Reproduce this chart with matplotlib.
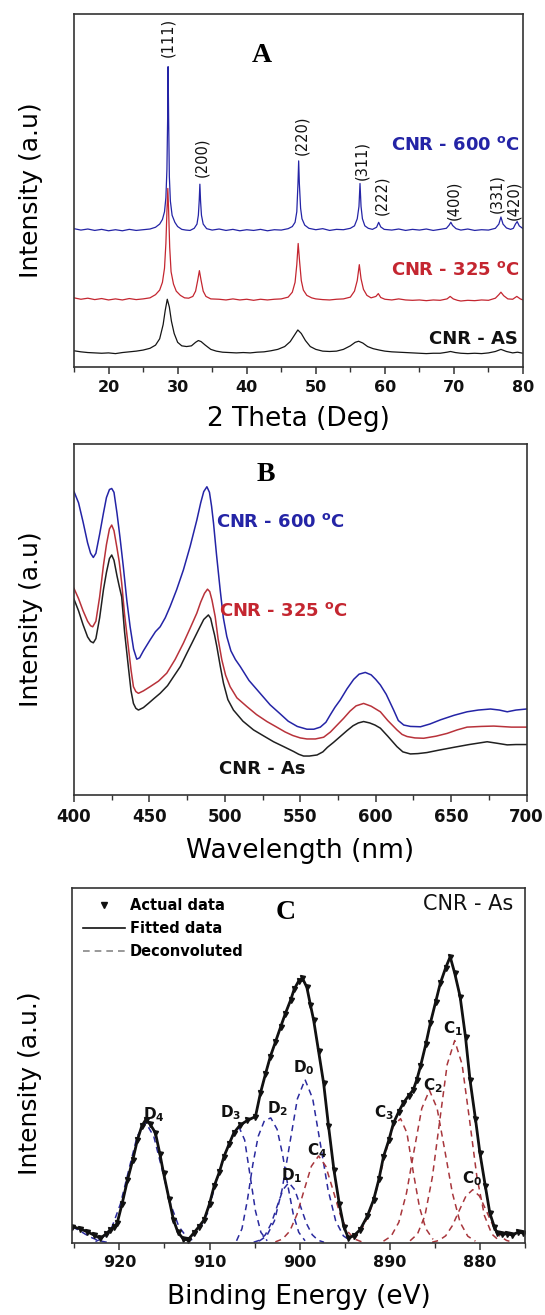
import numpy as np
import matplotlib.pyplot as plt
from matplotlib.lines import Line2D
from matplotlib.ticker import MultipleLocator

plt.rcParams['font.family'] = ['DejaVu Sans']
plt.rcParams['mathtext.fontset'] = 'dejavusans'

# ---------------- panel A : XRD (2theta, normalised intensity) ----------------
xrd_600 = np.array([
    [15.0, .392], [16.0, .388], [17.0, .391], [18.0, .387], [19.0, .390], [20.0, .386],
    [21.0, .389], [22.0, .386], [23.0, .390], [24.0, .387], [25.0, .389], [26.0, .391],
    [26.8, .396], [27.4, .405], [27.8, .418], [28.1, .440], [28.3, .480], [28.45, .560],
    [28.55, .700], [28.62, .851], [28.7, .700], [28.8, .540], [28.95, .470], [29.2, .430],
    [29.6, .410], [30.0, .398], [30.6, .390], [31.2, .388], [31.8, .387], [32.4, .393],
    [32.8, .405], [33.0, .430], [33.12, .470], [33.22, .518], [33.32, .470], [33.45, .430],
    [33.7, .405], [34.2, .392], [35.0, .388], [36.0, .391], [37.0, .387], [38.0, .390],
    [39.0, .386], [40.0, .389], [41.0, .387], [42.0, .390], [43.0, .386], [44.0, .389],
    [45.0, .388], [46.0, .392], [46.6, .398], [47.0, .410], [47.25, .440], [47.42, .520],
    [47.52, .584], [47.62, .520], [47.8, .450], [48.0, .420], [48.4, .402], [49.0, .393],
    [50.0, .389], [51.0, .392], [52.0, .387], [53.0, .390], [54.0, .389], [55.0, .393],
    [55.6, .400], [56.0, .420], [56.25, .455], [56.4, .520], [56.55, .455], [56.75, .420],
    [57.1, .400], [57.6, .393], [58.2, .390], [58.8, .396], [59.1, .410], [59.4, .397],
    [59.9, .390], [61.0, .388], [62.0, .391], [63.0, .387], [64.0, .390], [65.0, .388],
    [66.0, .391], [67.0, .387], [68.0, .390], [68.9, .393], [69.3, .402], [69.55, .410],
    [69.8, .401], [70.3, .392], [71.0, .388], [72.0, .391], [73.0, .387], [74.0, .389],
    [75.0, .388], [76.0, .393], [76.5, .405], [76.8, .425], [77.1, .405], [77.6, .394],
    [78.2, .390], [78.6, .393], [78.9, .405], [79.15, .412], [79.45, .400], [80.0, .392]])

xrd_325 = np.array([
    [15.0, .196], [16.0, .192], [17.0, .195], [18.0, .191], [19.0, .194], [20.0, .190],
    [21.0, .193], [22.0, .190], [23.0, .194], [24.0, .191], [25.0, .193], [26.0, .196],
    [26.8, .205], [27.4, .218], [27.8, .240], [28.1, .280], [28.3, .350], [28.45, .440],
    [28.58, .506], [28.7, .440], [28.85, .340], [29.05, .270], [29.4, .235], [29.8, .215],
    [30.4, .203], [31.0, .196], [31.6, .195], [32.2, .200], [32.6, .215], [32.9, .245],
    [33.15, .273], [33.4, .245], [33.7, .215], [34.1, .200], [34.8, .193], [36.0, .192],
    [37.0, .190], [38.0, .193], [39.0, .190], [40.0, .192], [41.0, .189], [42.0, .192],
    [43.0, .190], [44.0, .192], [45.0, .193], [46.0, .198], [46.6, .212], [47.0, .240],
    [47.25, .290], [47.45, .350], [47.65, .300], [47.9, .245], [48.2, .218], [48.7, .203],
    [49.4, .196], [50.0, .193], [51.0, .191], [52.0, .190], [53.0, .192], [54.0, .193],
    [55.0, .198], [55.6, .215], [56.0, .245], [56.3, .290], [56.55, .250], [56.9, .220],
    [57.4, .203], [58.0, .196], [58.7, .200], [59.05, .208], [59.4, .197], [60.0, .192],
    [61.0, .190], [62.0, .193], [63.0, .190], [64.0, .189], [65.0, .190], [66.0, .188],
    [67.0, .190], [68.0, .189], [69.0, .193], [69.45, .200], [69.9, .193], [70.5, .189],
    [71.0, .187], [72.0, .189], [73.0, .188], [74.0, .190], [75.0, .189], [76.0, .195],
    [76.5, .205], [76.8, .212], [77.2, .202], [77.8, .193], [78.5, .192], [79.1, .200],
    [79.6, .193], [80.0, .190]])

xrd_as = np.array([
    [15.0, .046], [16.0, .043], [17.0, .041], [18.0, .040], [19.0, .039], [20.0, .040],
    [21.0, .038], [22.0, .041], [23.0, .043], [24.0, .045], [25.0, .048], [26.0, .053],
    [26.8, .062], [27.4, .080], [27.9, .120], [28.2, .160], [28.5, .192], [28.8, .170],
    [29.1, .130], [29.5, .095], [30.0, .070], [30.6, .060], [31.3, .058], [32.0, .060],
    [32.6, .070], [33.0, .075], [33.4, .072], [34.0, .062], [34.8, .050], [35.6, .045],
    [36.5, .042], [37.5, .041], [38.5, .040], [39.5, .041], [40.5, .040], [41.5, .042],
    [42.5, .043], [43.5, .046], [44.5, .050], [45.5, .058], [46.3, .072], [46.9, .090],
    [47.4, .105], [47.9, .095], [48.5, .075], [49.2, .058], [50.0, .050], [51.0, .045],
    [52.0, .044], [53.0, .045], [54.0, .050], [55.0, .060], [55.7, .070], [56.2, .073],
    [56.8, .068], [57.5, .058], [58.3, .052], [59.2, .048], [60.0, .045], [61.0, .043],
    [62.0, .042], [63.0, .041], [64.0, .040], [65.0, .039], [66.0, .038], [67.0, .039],
    [68.0, .039], [69.0, .042], [69.5, .044], [70.2, .041], [71.0, .039], [72.0, .038],
    [73.0, .039], [74.0, .038], [75.0, .040], [76.0, .044], [76.8, .050], [77.6, .044],
    [78.5, .040], [79.2, .042], [80.0, .039]])

hkl_labels = ['(111)', '(200)', '(220)', '(311)', '(222)', '(400)', '(331)', '(420)']
hkl_x = [28.5, 33.5, 48.0, 56.6, 59.6, 70.0, 76.2, 78.7]
hkl_y = [0.878, 0.538, 0.600, 0.530, 0.430, 0.416, 0.436, 0.416]

# ---------------- panel B : absorption (nm, normalised intensity) ----------------
abs_600 = np.array([
    [400, .862], [403, .830], [406, .775], [409, .715], [411, .685], [412.8, .673], [414.5, .685],
    [417, .740], [419.5, .800], [421.5, .845], [423.5, .868], [425, .871], [426.5, .860],
    [428.5, .800], [430.5, .730], [432.7, .646], [435, .550], [437.2, .474], [439.5, .410],
    [441.6, .381], [443.5, .385], [446, .405], [450.4, .436], [454, .460], [457.1, .474],
    [460.5, .500], [463.7, .532], [468, .580], [472.5, .637], [477, .705], [481.4, .780],
    [484, .830], [486, .862], [488.1, .876], [489.8, .860], [491.2, .820], [492.5, .771],
    [494.5, .680], [496.9, .580], [499, .500], [501.3, .446], [504, .405], [507, .380],
    [510.2, .360], [516, .320], [523.4, .283], [530, .250], [536.7, .224], [542, .203],
    [548, .188], [554.4, .180], [559, .180], [563.3, .186], [567, .200], [570, .222],
    [573, .243], [576.5, .264], [581, .296], [585.4, .323], [589, .338], [593.1, .343],
    [597, .336], [600, .323], [603.1, .307], [607, .280], [611.9, .235], [615, .205],
    [618.6, .192], [623, .188], [629.7, .187], [636, .195], [643, .207], [652, .220],
    [660.6, .230], [668, .235], [676.1, .238], [682, .235], [687.2, .230], [693, .235],
    [700, .238]])

abs_325 = np.array([
    [400, .584], [403, .555], [406, .520], [409, .490], [411, .477], [412.4, .474], [414.5, .490],
    [417, .560], [419.5, .650], [421.5, .710], [423.5, .755], [425, .766], [426.5, .750],
    [428.5, .700], [430, .660], [431.6, .600], [433.5, .510], [436, .417], [437.8, .350],
    [439.4, .302], [441, .288], [442.7, .283], [446, .290], [450.4, .302], [456, .318],
    [461.5, .341], [467, .380], [472.5, .427], [477, .470], [481.4, .513], [484, .545],
    [486.5, .570], [488.5, .582], [490, .575], [491.5, .550], [493.6, .503], [495.5, .440],
    [498, .379], [500.5, .335], [503.5, .302], [508, .270], [514.6, .245], [521, .222],
    [527.9, .202], [534, .187], [540, .172], [545, .162], [550, .155], [554.4, .152],
    [560, .152], [565.5, .157], [570, .172], [574, .190], [578.7, .211], [583, .232],
    [587, .247], [592, .254], [597, .246], [603.1, .230], [608, .205], [614.1, .178],
    [617.5, .165], [620.8, .159], [626, .155], [631.8, .154], [640, .160], [647.4, .168],
    [654, .178], [660.6, .186], [670, .188], [678.3, .189], [690, .186], [700, .186]])

abs_as = np.array([
    [400, .553], [403, .520], [406, .480], [409, .445], [411, .432], [412.8, .428], [414.5, .440],
    [417, .500], [419.5, .580], [421.5, .630], [423.5, .670], [425, .680], [426.5, .665],
    [428.5, .620], [430, .590], [431.6, .560], [433.5, .460], [436, .360], [437.8, .290],
    [439.4, .254], [441, .240], [442.7, .235], [446, .242], [449.3, .254], [453, .268],
    [457.1, .283], [462, .305], [466, .331], [470.5, .360], [474.8, .398], [478.5, .430],
    [482.5, .465], [486, .495], [489.1, .508], [490.6, .498], [491.8, .475], [493.2, .450],
    [494.7, .417], [497, .360], [499.1, .312], [502, .265], [505.7, .235], [512, .203],
    [519, .178], [526, .160], [532.3, .144], [539, .130], [545.6, .116], [549, .108],
    [552.2, .103], [556, .103], [561.1, .106], [565, .115], [568, .128], [572, .142],
    [576.5, .159], [581, .176], [585, .190], [588.5, .198], [592, .202], [596, .198],
    [599.5, .192], [603.1, .183], [608, .160], [614.1, .130], [618, .115], [623, .109],
    [628, .110], [634, .113], [642, .120], [651.8, .128], [662, .136], [673.9, .144],
    [680, .140], [687.2, .135], [693, .136], [700, .136]])

# ---------------- panel C : XPS (binding energy eV, normalised intensity) ----------------
xps_actual = np.array([
    [925.2, .046], [924.4, .040], [923.6, .032], [922.8, .022], [922.1, .013], [921.5, .025],
    [921.0, .037], [920.6, .045], [920.25, .055], [919.7, .110], [919.1, .177], [918.5, .235],
    [918.0, .290], [917.5, .330], [917.1, .346], [916.6, .335], [916.0, .310], [915.5, .250],
    [915.1, .197], [914.5, .125], [914.0, .065], [913.5, .030], [912.9, .011], [912.4, .008],
    [911.75, .028], [911.2, .045], [910.6, .065], [910.0, .110], [909.5, .159], [908.9, .200],
    [908.4, .243], [907.8, .280], [907.3, .310], [906.6, .332], [905.8, .345], [904.9, .356],
    [904.35, .422], [903.8, .475], [903.25, .525], [902.7, .565], [902.1, .609], [901.6, .645],
    [901.0, .684], [900.6, .715], [900.1, .738], [899.7, .746], [899.2, .720], [898.8, .670],
    [898.45, .628], [897.9, .540], [897.34, .450], [896.8, .330], [896.2, .206], [895.6, .110],
    [895.1, .046], [894.6, .014], [894.0, .020], [893.3, .037], [892.5, .075], [891.8, .121],
    [891.2, .180], [890.7, .243], [890.1, .290], [889.6, .337], [889.0, .370], [888.5, .394],
    [887.9, .415], [887.4, .431], [887.0, .460], [886.6, .497], [886.0, .560], [885.5, .619],
    [884.9, .680], [884.4, .731], [883.8, .775], [883.3, .806], [882.8, .760], [882.2, .694],
    [881.6, .580], [881.1, .459], [880.5, .350], [880.0, .253], [879.4, .160], [878.9, .084],
    [878.4, .045], [878.1, .028], [877.5, .024], [877.0, .026], [876.4, .022], [875.8, .030],
    [875.2, .028]])

d_tail = np.array([[925.2, .045], [924.5, .036], [923.8, .025], [923.0, .014], [922.2, .006], [921.4, .002]])
d4 = np.array([[922.65, .004], [921.73, .015], [920.8, .046], [919.88, .110], [918.95, .206], [918.03, .300],
               [917.1, .340], [916.18, .300], [915.25, .206], [914.33, .110], [913.4, .046], [912.48, .015],
               [911.55, .004]])
d3 = np.array([[911.8, .020], [911.0, .045], [910.2, .085], [909.5, .150], [908.8, .210], [908.1, .265],
               [907.4, .305], [906.7, .325], [906.1, .290], [905.5, .190], [904.9, .090], [904.3, .030],
               [903.6, .006]])
d2 = np.array([[907.0, .006], [906.4, .040], [905.8, .120], [905.2, .220], [904.6, .300], [903.9, .345],
               [903.2, .352], [902.5, .320], [901.9, .250], [901.3, .160], [900.7, .080], [900.1, .030],
               [899.4, .006]])
d0 = np.array([[904.5, .005], [903.65, .020], [902.8, .062], [901.95, .150], [901.1, .279], [900.25, .406],
               [899.4, .460], [898.55, .406], [897.7, .279], [896.85, .150], [896.0, .062], [895.15, .020],
               [894.3, .005]])
d1 = np.array([[905.1, .002], [904.45, .0075], [903.8, .023], [903.15, .055], [902.5, .103], [901.85, .150],
               [901.2, .170], [900.55, .150], [899.9, .103], [899.25, .055], [898.6, .023], [897.95, .0075],
               [897.3, .002]])
c4 = np.array([[902.7, .003], [901.9, .011], [901.1, .033], [900.3, .080], [899.5, .149], [898.7, .216],
               [897.9, .245], [897.1, .216], [896.3, .149], [895.5, .080], [894.7, .033], [893.9, .011],
               [893.1, .003]])
c3 = np.array([[894.0, .010], [893.2, .035], [892.4, .075], [891.7, .125], [891.0, .200], [890.3, .270],
               [889.6, .330], [888.8, .350], [888.1, .310], [887.4, .200], [886.7, .100], [886.0, .040],
               [885.2, .010]])
c2 = np.array([[890.7, .005], [889.85, .019], [889.0, .058], [888.15, .140], [887.3, .261], [886.45, .379],
               [885.6, .430], [884.75, .379], [883.9, .261], [883.05, .140], [882.2, .058], [881.35, .019],
               [880.5, .005]])
c1 = np.array([[887.75, .006], [886.93, .025], [886.1, .077], [885.28, .185], [884.45, .346], [883.63, .503],
               [882.8, .570], [881.98, .503], [881.15, .346], [880.33, .185], [879.5, .077], [878.68, .025],
               [877.85, .006]])
c0 = np.array([[885.3, .002], [884.55, .007], [883.8, .020], [883.05, .049], [882.3, .091], [881.55, .132],
               [880.8, .150], [880.05, .132], [879.3, .091], [878.55, .049], [877.8, .020], [877.05, .007],
               [876.3, .002]])

peak_names = ['D_4', 'D_3', 'D_2', 'D_0', 'D_1', 'C_4', 'C_3', 'C_2', 'C_1', 'C_0']
peak_lx = [916.2, 907.7, 902.4, 899.5, 900.9, 898.1, 890.6, 885.2, 883.0, 880.9]
peak_ly = [0.360, 0.366, 0.379, 0.493, 0.189, 0.259, 0.366, 0.442, 0.603, 0.180]

BLUE = '#2424a6'
RED = '#c42630'
SPINE = '#333333'

fig = plt.figure(figsize=(5.45, 13.15), dpi=100)
axA = fig.add_axes([0.1358, 0.7209, 0.8239, 0.2684])
axB = fig.add_axes([0.1358, 0.3954, 0.8303, 0.2673])
axC = fig.add_axes([0.1330, 0.0548, 0.8303, 0.2700])


def style(ax):
    for s in ax.spines.values():
        s.set_color(SPINE)
        s.set_linewidth(1.2)
    ax.set_yticks([])
    ax.tick_params(axis='x', which='major', direction='out', length=5, width=1.1,
                   colors=SPINE, labelcolor='#111111', pad=4)
    ax.tick_params(axis='x', which='minor', direction='out', length=3.5, width=1.0, colors=SPINE)
    for t in ax.get_xticklabels():
        t.set_fontweight('bold')


# ---- A ----
axA.plot(xrd_600[:, 0], xrd_600[:, 1], color=BLUE, lw=0.9)
axA.plot(xrd_325[:, 0], xrd_325[:, 1], color=RED, lw=0.9)
axA.plot(xrd_as[:, 0], xrd_as[:, 1], color='#151515', lw=0.9)
axA.set_xlim(15, 80)
axA.set_ylim(0, 1)
axA.xaxis.set_major_locator(MultipleLocator(10))
axA.xaxis.set_minor_locator(MultipleLocator(5))
axA.tick_params(axis='x', labelsize=11.5)
style(axA)
for lab, x, y in zip(hkl_labels, hkl_x, hkl_y):
    axA.text(x, y, lab, rotation=90, ha='center', va='bottom', fontsize=10.5, color='#111111')
axA.text(0.419, 0.882, 'A', transform=axA.transAxes, ha='center', va='center',
         fontsize=20, fontweight='bold', family='Liberation Serif')
axA.text(0.993, 0.629, r'CNR - 600 $^{\mathbf{o}}$C', transform=axA.transAxes, ha='right',
         va='center', fontsize=13, fontweight='bold', color=BLUE)
axA.text(0.993, 0.275, r'CNR - 325 $^{\mathbf{o}}$C', transform=axA.transAxes, ha='right',
         va='center', fontsize=13, fontweight='bold', color=RED)
axA.text(0.989, 0.078, 'CNR - AS', transform=axA.transAxes, ha='right',
         va='center', fontsize=13, fontweight='bold', color='#111111')
axA.set_xlabel('2 Theta (Deg)', fontsize=19, labelpad=8)
axA.set_ylabel('Intensity (a.u)', fontsize=18, labelpad=22)

# ---- B ----
axB.plot(abs_600[:, 0], abs_600[:, 1], color=BLUE, lw=1.1)
axB.plot(abs_325[:, 0], abs_325[:, 1], color='#b8323a', lw=1.1)
axB.plot(abs_as[:, 0], abs_as[:, 1], color='#202020', lw=1.1)
axB.set_xlim(400, 700)
axB.set_ylim(-0.009, 1.0)
axB.xaxis.set_major_locator(MultipleLocator(50))
axB.xaxis.set_minor_locator(MultipleLocator(25))
axB.tick_params(axis='x', labelsize=12)
style(axB)
axB.text(0.423, 0.912, 'B', transform=axB.transAxes, ha='center', va='center',
         fontsize=20, fontweight='bold', family='Liberation Serif')
axB.text(494.1, 0.775, r'CNR - 600 $^{\mathbf{o}}$C', ha='left', va='center',
         fontsize=13, fontweight='bold', color=BLUE)
axB.text(496.1, 0.518, r'CNR - 325 $^{\mathbf{o}}$C', ha='left', va='center',
         fontsize=13, fontweight='bold', color=RED)
axB.text(496.1, 0.066, 'CNR - As', ha='left', va='center',
         fontsize=13, fontweight='bold', color='#111111')
axB.set_xlabel('Wavelength (nm)', fontsize=19, labelpad=9)
axB.set_ylabel('Intensity (a.u)', fontsize=18, labelpad=22)

# ---- C ----
dash = (0, (4, 3))
for comp in [d_tail, d4, d3, d2, d0, d1]:
    axC.plot(comp[:, 0], comp[:, 1], color='#2a2a9e', lw=1.1, ls=dash)
for comp in [c4, c3, c2, c1, c0]:
    axC.plot(comp[:, 0], comp[:, 1], color='#a8363c', lw=1.1, ls=dash)
axC.plot(xps_actual[:, 0], xps_actual[:, 1], color='#111111', lw=2.0, marker='v', ms=3.6, ls='-')
axC.plot(xps_actual[:, 0], xps_actual[:, 1], color='#111111', lw=0.8)
axC.set_xlim(925.2, 875)
axC.set_ylim(0, 1)
axC.xaxis.set_major_locator(MultipleLocator(10))
axC.xaxis.set_minor_locator(MultipleLocator(5))
axC.tick_params(axis='x', labelsize=11.5)
style(axC)
for name, x, y in zip(peak_names, peak_lx, peak_ly):
    axC.text(x, y, r'$\mathbf{%s}$' % name, ha='center', va='center', fontsize=11, color='#111111')
axC.text(0.472, 0.931, 'C', transform=axC.transAxes, ha='center', va='center',
         fontsize=20, fontweight='bold', family='Liberation Serif')
axC.text(0.973, 0.955, 'CNR - As', transform=axC.transAxes, ha='right', va='center',
         fontsize=15, color='#111111')
handles = [Line2D([], [], marker='v', ls='none', color='#111111', ms=4),
           Line2D([], [], color='#111111', lw=1.2),
           Line2D([], [], color='#888888', lw=1.2, ls=dash)]
leg = axC.legend(handles, ['Actual data', 'Fitted data', 'Deconvoluted'], loc='upper left',
                 frameon=False, fontsize=10.5, handlelength=2.9, handletextpad=0.35,
                 labelspacing=0.55, borderaxespad=0.3, numpoints=1)
for t in leg.get_texts():
    t.set_fontweight('bold')
axC.set_xlabel('Binding Energy (eV)', fontsize=19, labelpad=10)
axC.set_ylabel('Intensity (a.u.)', fontsize=18, labelpad=22, y=0.449)

fig.savefig('out.png', dpi=100)
